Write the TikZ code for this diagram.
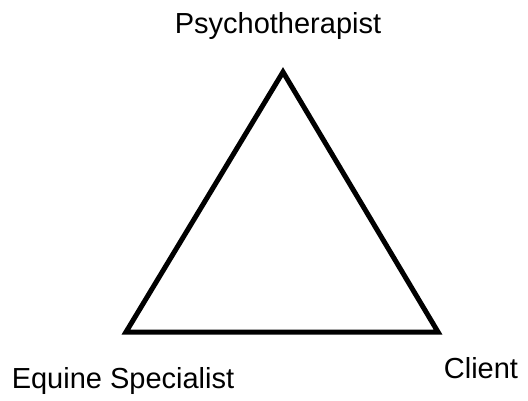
\documentclass[tikz,border=0pt]{standalone}
\usepackage{fontspec}
\setmainfont{Liberation Sans}
\begin{document}
\begin{tikzpicture}[x=1pt,y=-1pt,
  lbl/.style={inner sep=0pt,anchor=base,font=\fontsize{29}{35}\selectfont},
  tri/.style={line width=5pt,line join=miter,black}]
\useasboundingbox (0,0) rectangle (528,401);
\coordinate (top) at (283,72);
\coordinate (bl) at (126,332);
\coordinate (br) at (438,332);
\draw[tri] (top) -- (bl) -- (br) -- cycle;
\node[lbl] (psy) at (278,34) {Psychotherapist};
\node[lbl] (eq) at (123,388) {Equine Specialist};
\node[lbl] (cl) at (481,378) {Client};
\end{tikzpicture}
\end{document}
